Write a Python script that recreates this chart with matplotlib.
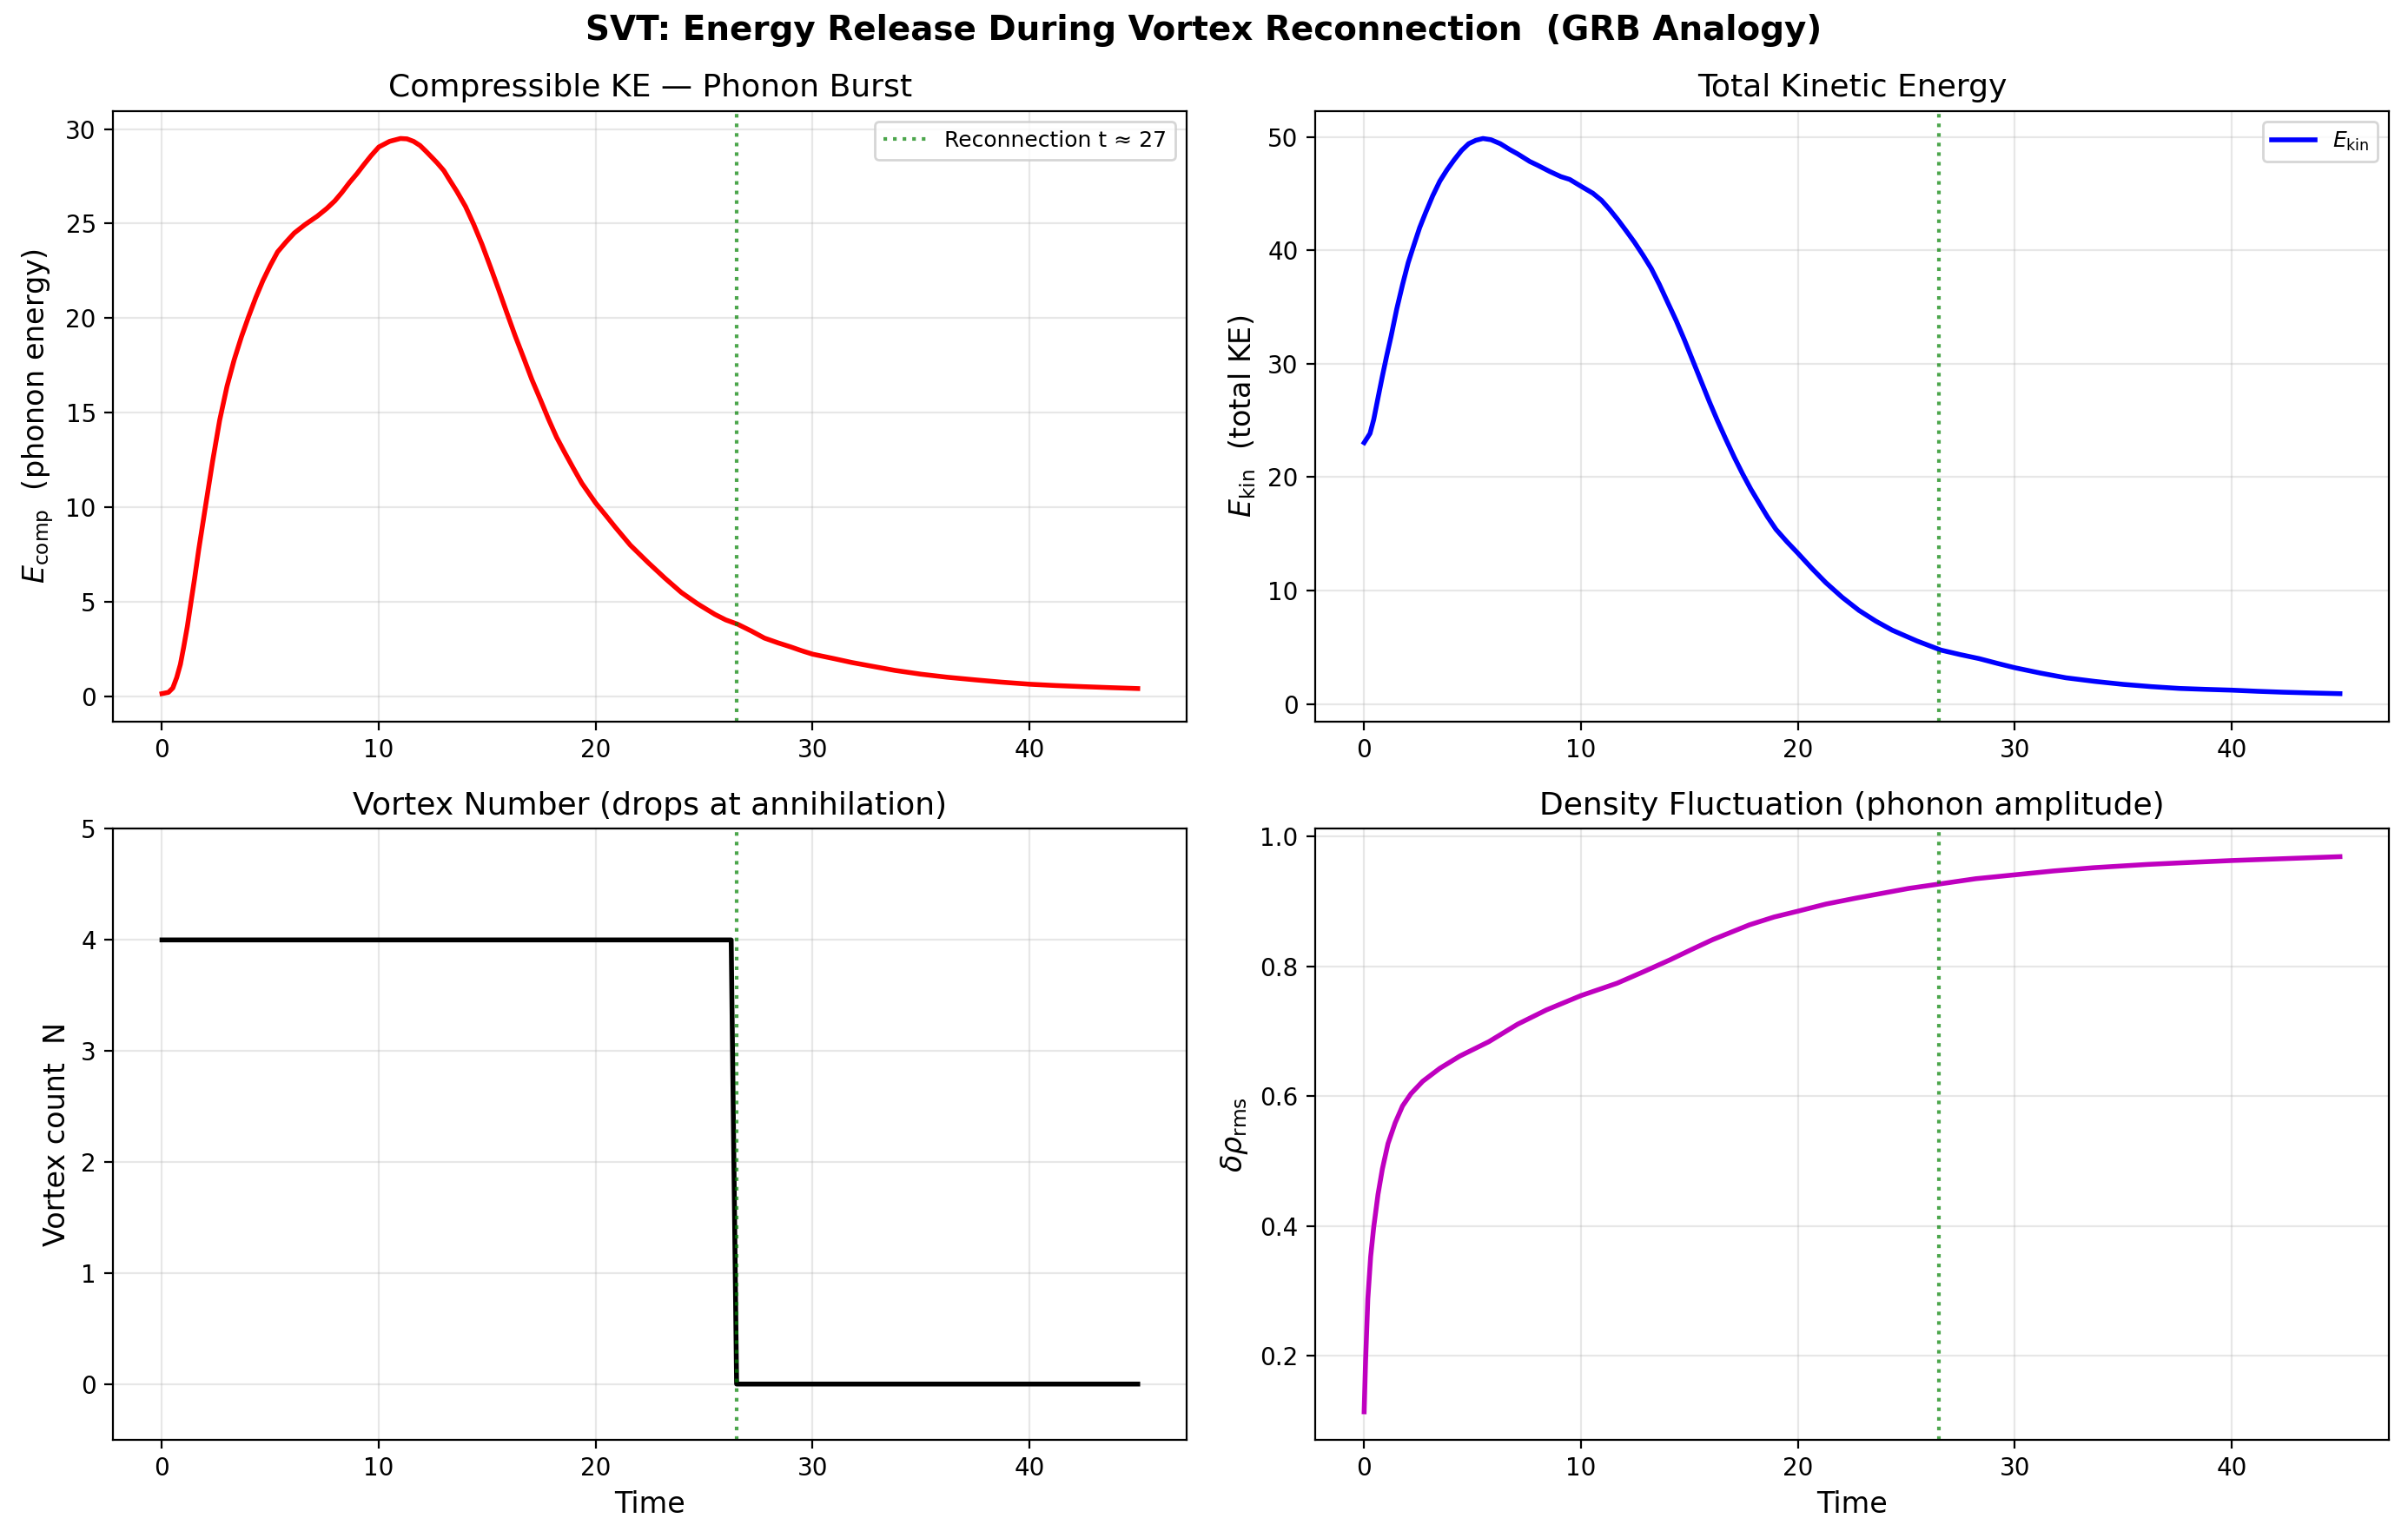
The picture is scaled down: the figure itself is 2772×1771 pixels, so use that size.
import matplotlib
matplotlib.use("Agg")
import matplotlib.pyplot as plt

# values
t_comp = [0.0, 0.3, 0.5, 0.68, 0.85, 1.0, 1.17, 1.34, 1.5, 1.7, 2.0, 2.33, 2.66, 3.0, 3.33,
          3.66, 4.0, 4.33, 4.66, 5.0, 5.33, 5.7, 6.1, 6.6, 7.17, 7.6, 7.97, 8.3, 8.64, 9.0,
          9.3, 9.65, 10.0, 10.5, 11.0, 11.3, 11.6, 11.9, 12.16, 12.45, 12.7, 13.0, 13.23,
          13.6, 14.0, 14.38, 14.76, 15.15, 15.53, 15.9, 16.29, 16.68, 17.06, 17.45, 17.83,
          18.2, 18.59, 18.98, 19.36, 20.0, 20.45, 20.89, 21.6, 22.42, 23.2, 23.95, 24.7, 25.5,
          26.0, 26.55, 27.2, 27.78, 28.4, 29.0, 29.5, 30.0, 31.0, 31.8, 32.65, 33.8, 35.0,
          36.2, 37.5, 38.7, 40.0, 41.2, 42.5, 43.7, 45.0]
E_comp = [0.15, 0.22, 0.45, 1.0, 1.7, 2.6, 3.7, 5.0, 6.2, 7.8, 10.0, 12.4, 14.6, 16.4, 17.8,
          19.0, 20.1, 21.1, 22.0, 22.8, 23.5, 24.0, 24.5, 24.95, 25.4, 25.8, 26.2, 26.65,
          27.16, 27.65, 28.1, 28.6, 29.05, 29.35, 29.5, 29.48, 29.35, 29.13, 28.84, 28.5,
          28.2, 27.8, 27.37, 26.7, 25.9, 24.95, 23.9, 22.7, 21.5, 20.3, 19.06, 17.9, 16.75,
          15.7, 14.65, 13.7, 12.86, 12.05, 11.28, 10.23, 9.6, 8.97, 8.0, 7.08, 6.25, 5.5,
          4.9, 4.34, 4.05, 3.82, 3.45, 3.09, 2.84, 2.62, 2.42, 2.24, 2.0, 1.8, 1.62, 1.38,
          1.18, 1.02, 0.88, 0.76, 0.65, 0.58, 0.52, 0.47, 0.42]

t_kin = [0.0, 0.27, 0.44, 0.64, 0.84, 1.04, 1.24, 1.5, 1.77, 2.03, 2.3, 2.56, 2.83, 3.16,
         3.49, 3.82, 4.16, 4.49, 4.82, 5.15, 5.48, 5.85, 6.28, 6.72, 7.08, 7.64, 8.0, 8.56,
         9.07, 9.48, 10.0, 10.55, 10.95, 11.32, 11.7, 12.09, 12.47, 12.85, 13.24, 13.62,
         14.0, 14.39, 14.77, 15.15, 15.53, 15.92, 16.3, 16.69, 17.07, 17.45, 17.83, 18.22,
         18.6, 18.99, 19.5, 20.0, 20.65, 21.29, 22.05, 22.82, 23.6, 24.36, 25.5, 26.6,
         27.5, 28.36, 29.2, 30.0, 31.2, 32.36, 33.7, 35.0, 36.3, 37.6, 38.8, 40.0, 41.2,
         42.36, 43.7, 45.0]
E_kin = [23.04, 23.85, 25.07, 27.0, 28.9, 30.7, 32.4, 34.8, 36.97, 38.9, 40.5, 42.0, 43.3,
         44.8, 46.1, 47.1, 48.0, 48.8, 49.4, 49.7, 49.86, 49.75, 49.4, 48.88, 48.5, 47.83,
         47.5, 46.95, 46.5, 46.25, 45.65, 45.03, 44.4, 43.6, 42.7, 41.7, 40.7, 39.6, 38.4,
         36.97, 35.4, 33.8, 32.1, 30.3, 28.5, 26.65, 24.95, 23.3, 21.75, 20.3, 18.95, 17.7,
         16.5, 15.4, 14.3, 13.3, 11.95, 10.7, 9.4, 8.25, 7.3, 6.5, 5.55, 4.75, 4.35, 4.0,
         3.58, 3.2, 2.72, 2.31, 1.99, 1.73, 1.53, 1.37, 1.29, 1.22, 1.12, 1.04, 0.97, 0.91]

t_vort = [0.0, 26.25, 26.5, 45.0]
N_vort = [4, 4, 0, 0]

t_rho = [0.0, 0.066, 0.17, 0.3, 0.44, 0.64, 0.84, 1.1, 1.43, 1.77, 2.16, 2.7, 3.49, 4.42,
         5.75, 7.08, 8.41, 10.0, 11.66, 12.9, 14.1, 15.1, 16.06, 17.77, 18.9, 20.0, 21.3,
         22.66, 25.1, 26.55, 28.2, 30.0, 31.8, 33.65, 36.1, 38.0, 40.0, 42.5, 45.0]
rho_rms = [0.114, 0.192, 0.288, 0.353, 0.398, 0.449, 0.488, 0.527, 0.559, 0.585, 0.604,
           0.623, 0.643, 0.662, 0.684, 0.711, 0.733, 0.755, 0.774, 0.792, 0.810, 0.826,
           0.841, 0.864, 0.876, 0.885, 0.896, 0.905, 0.920, 0.927, 0.935, 0.941, 0.947,
           0.952, 0.957, 0.960, 0.963, 0.966, 0.969]

t_recon = 26.5

fig, axes = plt.subplots(2, 2, figsize=(13.86, 8.855))
fig.suptitle("SVT: Energy Release During Vortex Reconnection  (GRB Analogy)",
             fontsize=14, fontweight="bold", y=0.980, va="center")

ax = axes[0, 0]
ax.plot(t_comp, E_comp, color="red", lw=2)
ax.axvline(t_recon, color="g", ls=":", lw=1.5, alpha=0.7, label="Reconnection t ≈ 27")
ax.set_title("Compressible KE — Phonon Burst", fontsize=13)
ax.set_ylabel(r"$E_{\rm comp}$  (phonon energy)", fontsize=12)
ax.legend(fontsize=9, loc="upper right")
ax.grid(alpha=0.3)

ax = axes[0, 1]
ax.plot(t_kin, E_kin, color="blue", lw=2, label=r"$E_{\rm kin}$")
ax.axvline(t_recon, color="g", ls=":", lw=1.5, alpha=0.7)
ax.set_title("Total Kinetic Energy", fontsize=13)
ax.set_ylabel(r"$E_{\rm kin}$  (total KE)", fontsize=12)
ax.legend(fontsize=9, loc="upper right")
ax.grid(alpha=0.3)

ax = axes[1, 0]
ax.plot(t_vort, N_vort, color="black", lw=2)
ax.axvline(t_recon, color="g", ls=":", lw=1.5, alpha=0.7)
ax.set_title("Vortex Number (drops at annihilation)", fontsize=13)
ax.set_ylabel("Vortex count  N", fontsize=12)
ax.set_xlabel("Time", fontsize=12)
ax.set_ylim(-0.5, 5)
ax.grid(alpha=0.3)

ax = axes[1, 1]
ax.plot(t_rho, rho_rms, color="m", lw=2)
ax.axvline(t_recon, color="g", ls=":", lw=1.5, alpha=0.7)
ax.set_title("Density Fluctuation (phonon amplitude)", fontsize=13)
ax.set_ylabel(r"$\delta\rho_{\rm rms}$", fontsize=12)
ax.set_xlabel("Time", fontsize=12)
ax.grid(alpha=0.3)

fig.subplots_adjust(left=0.047, right=0.992, top=0.928, bottom=0.064,
                    wspace=0.120, hspace=0.176)
plt.savefig("out.png", dpi=200)
